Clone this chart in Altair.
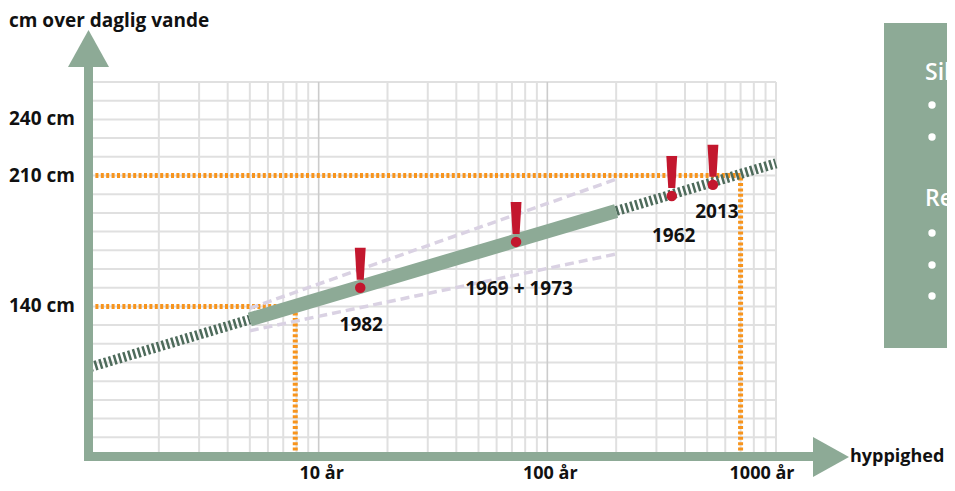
import altair as alt
import pandas as pd

# ---------------- data ----------------
# return period (years) and level (cm above daily water)
main_T = [1, 5, 200, 1000]
main_cm = [107.5, 133, 191, 216.5]
main_style = ["stiplet", "fuld", "stiplet"]  # style of each segment

conf_T = [5, 200]
conf_upper = [139, 208]
conf_lower = [127, 168]

event_T = [15.2, 73, 350, 530]
event_cm = [150, 174.5, 199, 205]
event_label = ["1982", "1969 + 1973", "1962", "2013"]

# orange reference lines: (T1, cm1, T2, cm2)
ref_T1 = [1, 7.9, 1, 700]
ref_cm1 = [140, 60, 210, 60]
ref_T2 = [7.9, 7.9, 700, 700]
ref_cm2 = [140, 140, 210, 210]

grid_T_minor = [2, 3, 4, 5, 6, 7, 8, 9, 20, 30, 40, 50, 60, 70, 80, 90,
                200, 300, 400, 500, 600, 700, 800, 900, 1000]
grid_T_major = [10, 100]
grid_cm = list(range(60, 261, 10))

y_labels = [140, 210, 240]
x_labels = [10, 100, 1000]
x_label_text = ["10 år", "100 år", "1000 år"]

box_headers = ["Sikkerhed", "Restrisiko"]

# ---------------- layout ----------------
W, H = 686, 374
TOP = 74
GREEN = "#8daa96"
DARK = "#4e6b5b"
ORANGE = "#f7941d"
RED = "#c3172e"
FONT = "Open Sans"
INK = "#111111"

xs = alt.Scale(type="log", domain=[1, 1000], nice=False)
ys = alt.Scale(domain=[60, 260], nice=False, zero=False)


def X(f="T"):
    return alt.X(f"{f}:Q", scale=xs, axis=None)


def Y(f="cm"):
    return alt.Y(f"{f}:Q", scale=ys, axis=None)


one = pd.DataFrame({"a": [0]})

# grid
gv = alt.Chart(pd.DataFrame({"T": grid_T_minor})).mark_rule(
    color="#e0e0e0", strokeWidth=2).encode(x=X(), y=alt.value(0), y2=alt.value(H))
gv2 = alt.Chart(pd.DataFrame({"T": grid_T_major})).mark_rule(
    color="#cccccc", strokeWidth=1.6).encode(x=X(), y=alt.value(0), y2=alt.value(H))
gh = alt.Chart(pd.DataFrame({"cm": grid_cm})).mark_rule(
    color="#e0e0e0", strokeWidth=2).encode(y=Y(), x=alt.value(0), x2=alt.value(W))

# orange lines
ref_df = pd.DataFrame({"T": ref_T1, "cm": ref_cm1, "T2": ref_T2, "cm2": ref_cm2})
ref = alt.Chart(ref_df).mark_rule(
    color=ORANGE, strokeWidth=5, strokeDash=[3, 2.4]).encode(
    x=X(), y=Y(), x2="T2:Q", y2="cm2:Q")

# confidence lines
conf_df = pd.DataFrame({
    "T": conf_T + conf_T,
    "cm": conf_upper + conf_lower,
    "g": ["upper"] * 2 + ["lower"] * 2,
})
conf = alt.Chart(conf_df).mark_line(
    color="#dad2e3", strokeWidth=3.5, strokeDash=[9, 5]).encode(
    x=X(), y=Y(), detail="g:N")

# main line segments
rows = []
for i, st in enumerate(main_style):
    for j in (i, i + 1):
        rows.append({"T": main_T[j], "cm": main_cm[j], "seg": i, "style": st})
seg_df = pd.DataFrame(rows)
hatch = alt.Chart(seg_df[seg_df["style"] == "stiplet"]).mark_line(
    color=DARK, strokeWidth=10, strokeDash=[2.5, 2.5], strokeCap="butt").encode(
    x=X(), y=Y(), detail="seg:N")
solid = alt.Chart(seg_df[seg_df["style"] == "fuld"]).mark_line(
    color=GREEN, strokeWidth=14, strokeCap="butt").encode(
    x=X(), y=Y(), detail="seg:N")

# events
ev_df = pd.DataFrame({"T": event_T, "cm": event_cm, "label": event_label})
dots = alt.Chart(ev_df).mark_point(
    shape="circle", filled=True, size=110, color=RED, opacity=1).encode(x=X(), y=Y())
bang = alt.Chart(ev_df).mark_point(
    shape="M-0.34,-1L0.34,-1L0.22,1L-0.22,1Z", filled=True, size=1024,
    color=RED, opacity=1, yOffset=-24).encode(x=X(), y=Y())
label_off = {"1982": (1, 37), "1969 + 1973": (3, 47), "1962": (2, 40), "2013": (4, 27)}
ev_text = []
for lab, (dx, dy) in label_off.items():
    ev_text.append(alt.Chart(ev_df[ev_df["label"] == lab]).mark_text(
        font=FONT, fontWeight="bold", fontSize=19, color=INK,
        dx=dx, dy=dy, align="center", baseline="middle").encode(
        x=X(), y=Y(), text="label:N"))

# axes (arrows)
yshaft = alt.Chart(one).mark_rect(color=GREEN).encode(
    x=alt.value(-6), x2=alt.value(3), y=alt.value(-15), y2=alt.value(H + 5))
xshaft = alt.Chart(one).mark_rect(color=GREEN).encode(
    x=alt.value(-6), x2=alt.value(723), y=alt.value(H - 4), y2=alt.value(H + 5))
yhead = alt.Chart(one).mark_point(
    shape="M0,-0.9L1,0.9L-1,0.9Z", filled=True, size=1681, color=GREEN, opacity=1).encode(
    x=alt.value(-1.5), y=alt.value(-33.5))
xhead = alt.Chart(one).mark_point(
    shape="M0.9,0L-0.9,-1L-0.9,1Z", filled=True, size=1600, color=GREEN, opacity=1).encode(
    x=alt.value(741), y=alt.value(H + 1))

# axis texts
title = alt.Chart(one).mark_text(
    text="cm over daglig vande", font=FONT, fontWeight="bold", fontSize=19,
    color=INK, align="left", baseline="alphabetic").encode(
    x=alt.value(-81), y=alt.value(-55))
ylab = alt.Chart(pd.DataFrame({"cm": y_labels, "t": [f"{v} cm" for v in y_labels]})).mark_text(
    font=FONT, fontWeight="bold", fontSize=19, color=INK,
    align="left", baseline="middle").encode(x=alt.value(-81), y=Y(), text="t:N")
xl_off = {10: 3, 100: 3, 1000: -14}
xlabs = []
for v, t in zip(x_labels, x_label_text):
    xlabs.append(alt.Chart(pd.DataFrame({"T": [v], "t": [t]})).mark_text(
        font=FONT, fontWeight="bold", fontSize=18, color=INK,
        align="center", baseline="alphabetic", dx=xl_off[v]).encode(
        x=X(), y=alt.value(H + 23), text="t:N"))
xtitle = alt.Chart(one).mark_text(
    text="hyppighed", font=FONT, fontWeight="bold", fontSize=18, color=INK,
    align="left", baseline="middle").encode(x=alt.value(760), y=alt.value(H + 1))

# side box (cut off at the right edge)
box = alt.Chart(one).mark_rect(color=GREEN).encode(
    x=alt.value(794), x2=alt.value(920), y=alt.value(-59), y2=alt.value(266))
box_t1 = alt.Chart(one).mark_text(
    text=box_headers[0], font=FONT, fontWeight=600, fontSize=23, color="white",
    align="left", baseline="alphabetic").encode(x=alt.value(835), y=alt.value(-2))
box_t2 = alt.Chart(one).mark_text(
    text=box_headers[1], font=FONT, fontWeight=600, fontSize=23, color="white",
    align="left", baseline="alphabetic").encode(x=alt.value(835), y=alt.value(124))
bullets = alt.Chart(pd.DataFrame({"b": [23, 55, 151, 183, 214]})).mark_point(
    shape="circle", filled=True, size=55, color="white", opacity=1).encode(
    x=alt.value(842), y=alt.Y("b:Q", scale=None, axis=None))

chart = alt.layer(
    gv, gh, gv2, ref, conf, hatch, solid, dots, bang, *ev_text,
    yshaft, xshaft, yhead, xhead, title, ylab, *xlabs, xtitle,
    box, box_t1, box_t2, bullets,
).properties(
    width=W, height=H,
    autosize=alt.AutoSizeParams(type="none"),
    padding={"left": 82, "top": TOP, "right": 171, "bottom": 475 - TOP - H},
).configure_view(stroke=None).resolve_scale(y="independent")

chart.save("out.html", embed_options={"renderer": "svg", "actions": False})
